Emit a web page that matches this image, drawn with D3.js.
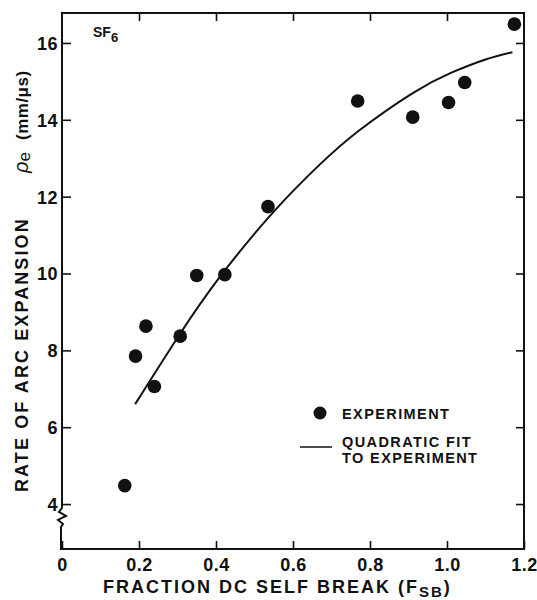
<!DOCTYPE html>
<html>
<head>
<meta charset="utf-8">
<script src="https://cdn.jsdelivr.net/npm/d3@7"></script>
<style>
body { margin: 0; background: #fff; }
text { font-family: "Liberation Sans", Arial, sans-serif; font-weight: 700; fill: #111; }
</style>
</head>
<body>
<svg id="drawing_region"></svg>
<script>
// experiment points
const expX = [0.163, 0.191, 0.218, 0.240, 0.307, 0.350, 0.423, 0.535, 0.768, 0.911, 1.004, 1.046, 1.175];
const expY = [4.48, 7.85, 8.63, 7.06, 8.37, 9.95, 9.97, 11.74, 14.49, 14.07, 14.45, 14.97, 16.49];

// quadratic fit curve
const fitX = [0.19, 0.30, 0.41, 0.55, 0.67, 0.77, 0.91, 1.01, 1.10, 1.17];
const fitY = [6.60, 8.33, 9.91, 11.61, 12.84, 13.71, 14.69, 15.22, 15.57, 15.76];

const xTicks = [0, 0.2, 0.4, 0.6, 0.8, 1.0, 1.2];
const yTicks = [4, 6, 8, 10, 12, 14, 16];

const config = {
    width: 537,
    height: 600,
    margin: {top: 13, right: 13, bottom: 51, left: 62}
};

const svg = d3.select('#drawing_region')
    .attr('width', config.width)
    .attr('height', config.height);

const chart = svg.append('g')
    .attr('transform', `translate(${config.margin.left}, ${config.margin.top})`);

const inner_width = config.width - config.margin.left - config.margin.right;
const inner_height = config.height - config.margin.top - config.margin.bottom;

const xscale = d3.scaleLinear()
    .domain([0, 1.2])
    .range([0, inner_width]);

const yscale = d3.scaleLinear()
    .domain([2.83, 16.78])
    .range([inner_height, 0]);

const fmt = d => d === 0 ? '0' : d3.format('.1f')(d);

// bottom axis, ticks pointing up into the plot
const xaxis_group = chart.append('g')
    .attr('transform', `translate(0, ${inner_height})`)
    .call(d3.axisBottom(xscale).tickValues(xTicks).tickFormat(fmt)
        .tickSizeInner(-8).tickSizeOuter(0).tickPadding(9));

// top axis, no labels
const xaxis_top = chart.append('g')
    .call(d3.axisTop(xscale).tickValues(xTicks.slice(1, -1)).tickFormat('')
        .tickSizeInner(-8).tickSizeOuter(0));

// left axis, ticks pointing right
const yaxis_group = chart.append('g')
    .call(d3.axisLeft(yscale).tickValues(yTicks)
        .tickSizeInner(-9).tickSizeOuter(0).tickPadding(4));

// right axis, no labels
const yaxis_right = chart.append('g')
    .attr('transform', `translate(${inner_width}, 0)`)
    .call(d3.axisRight(yscale).tickValues(yTicks).tickFormat('')
        .tickSizeInner(-8).tickSizeOuter(0));

chart.selectAll('.domain').remove();
chart.selectAll('.tick line').attr('stroke', '#111').attr('stroke-width', 1.6);
chart.selectAll('.tick text')
    .attr('font-size', 18)
    .attr('font-family', '"Liberation Sans", Arial, sans-serif')
    .attr('font-weight', 700)
    .attr('letter-spacing', 0.5)
    .attr('fill', '#111');
yaxis_group.selectAll('.tick text').attr('dy', '0.36em');

// frame, with a break on the left axis below 4
const by = yscale(3.95);
const frame = d3.path();
frame.moveTo(0, by + 2);
frame.lineTo(0, 0);
frame.lineTo(inner_width, 0);
frame.lineTo(inner_width, inner_height);
frame.lineTo(-1, inner_height);
frame.lineTo(-1, by + 21);
frame.lineTo(1, by + 18);
frame.lineTo(-4, by + 14);
frame.lineTo(4, by + 10);
frame.lineTo(-3, by + 6);
frame.lineTo(0, by + 2);
chart.append('path')
    .attr('d', frame.toString())
    .attr('fill', 'none')
    .attr('stroke', '#111')
    .attr('stroke-width', 2)
    .attr('stroke-linejoin', 'miter');

// fit curve
const line = d3.line()
    .x(d => xscale(d[0]))
    .y(d => yscale(d[1]))
    .curve(d3.curveNatural);

chart.append('path')
    .datum(fitX.map((x, i) => [x, fitY[i]]))
    .attr('d', line)
    .attr('fill', 'none')
    .attr('stroke', '#111')
    .attr('stroke-width', 2);

// experiment dots
chart.selectAll('circle.exp')
    .data(expX.map((x, i) => [x, expY[i]]))
    .enter()
    .append('circle')
    .attr('class', 'exp')
    .attr('cx', d => xscale(d[0]))
    .attr('cy', d => yscale(d[1]))
    .attr('r', 6.8)
    .attr('fill', '#111');

// SF6 label
const sf = chart.append('text')
    .attr('x', 31)
    .attr('y', 24)
    .attr('font-size', 14);
sf.append('tspan').text('SF');
sf.append('tspan').attr('dy', 5).attr('font-size', 13).text('6');

// legend
const legend = chart.append('g')
    .attr('transform', `translate(${258}, ${400})`);
legend.append('circle')
    .attr('cx', 0).attr('cy', 0).attr('r', 6.5).attr('fill', '#111');
legend.append('line')
    .attr('x1', -20).attr('x2', 12).attr('y1', 34).attr('y2', 34)
    .attr('stroke', '#111').attr('stroke-width', 1.5);
const ltext = [['EXPERIMENT', 6], ['QUADRATIC FIT', 34], ['TO EXPERIMENT', 50]];
legend.selectAll('text')
    .data(ltext)
    .enter()
    .append('text')
    .attr('x', 22)
    .attr('y', d => d[1])
    .attr('font-size', 14.5)
    .attr('letter-spacing', 1.4)
    .text(d => d[0]);

// x axis title
const xt = svg.append('text')
    .attr('x', 103)
    .attr('y', 593)
    .attr('font-size', 18)
    .attr('letter-spacing', 2);
xt.append('tspan').text('FRACTION DC SELF BREAK (F');
xt.append('tspan').attr('dy', 4).attr('font-size', 15).text('SB');
xt.append('tspan').attr('dy', -4).text(')');

// y axis title
const yt = svg.append('g')
    .attr('transform', 'translate(28, 492) rotate(-90)');
yt.append('text')
    .attr('x', 0)
    .attr('font-size', 18)
    .attr('letter-spacing', 2.1)
    .text('RATE OF ARC EXPANSION');
const rho = yt.append('text')
    .attr('x', 319)
    .attr('font-size', 20);
rho.append('tspan').attr('font-style', 'italic').attr('font-weight', 400).text('ρ');
rho.append('tspan').attr('dy', 2).attr('font-size', 17).attr('font-weight', 400).text('e');
yt.append('text')
    .attr('x', 352)
    .attr('font-size', 17)
    .attr('letter-spacing', 0.5)
    .text('(mm/μs)');
</script>
</body>
</html>
